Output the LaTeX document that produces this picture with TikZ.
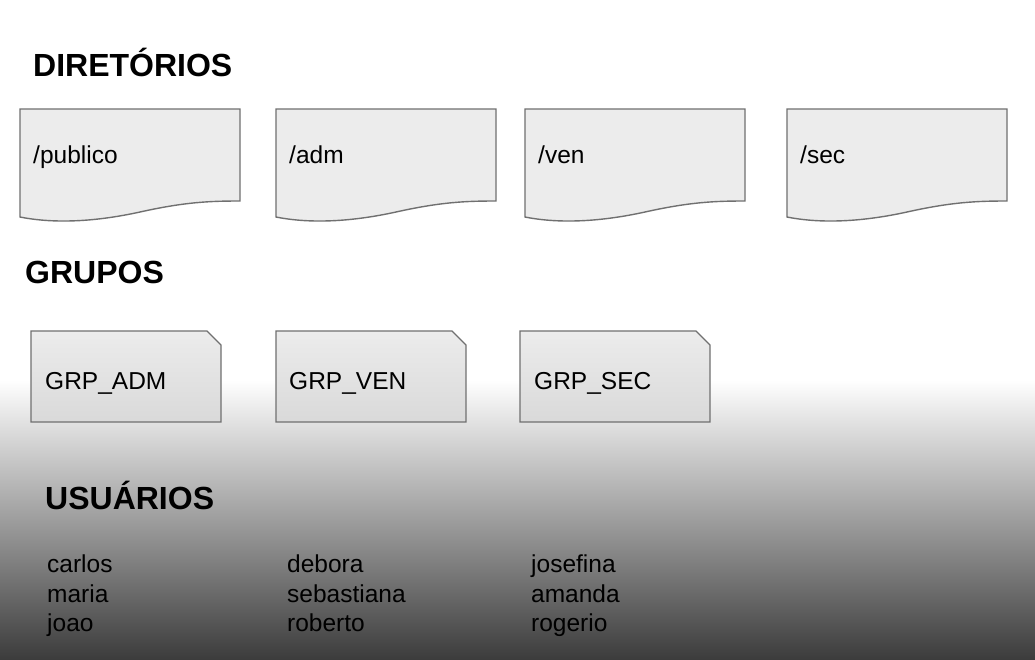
\documentclass[tikz,border=0pt]{standalone}
\usepackage{fontspec}
\setmainfont{Liberation Sans}
\usepackage{tikz}

\definecolor{boxfill}{HTML}{ECECEC}
\definecolor{boxline}{HTML}{707070}
\definecolor{fadeend}{HTML}{3C3C3C}

\begin{document}
\begin{tikzpicture}[x=1pt, y=-1pt,
		title/.style={anchor=base west, inner sep=0pt, font=\fontsize{32}{36}\selectfont\bfseries},
		label/.style={anchor=base west, inner sep=0pt, font=\fontsize{24.5}{29}\selectfont},
		docbox/.style={draw=boxline, fill=boxfill, line width=1.4pt},
		grpbox/.style={draw=boxline, top color=boxfill, bottom color=boxfill!92!black, line width=1.4pt}]
			\useasboundingbox (0,0) rectangle (1035,659);
			\fill[white] (0,0) rectangle (1035,380);
			\shade[top color=white, bottom color=fadeend] (0,380) rectangle (1035,659);
			
			% diretorios
			\node[title] (tdir) at (33,76) {DIRETÓRIOS};
			\draw[docbox] (20,109) -- (240,109) -- (240,201) .. controls (210,201) and (185,202) .. (140,212) .. controls (90,223) and (50,223) .. (20,217) -- cycle;
			\draw[docbox] (276,109) -- (496,109) -- (496,201) .. controls (466,201) and (441,202) .. (396,212) .. controls (346,223) and (306,223) .. (276,217) -- cycle;
			\draw[docbox] (525,109) -- (745,109) -- (745,201) .. controls (715,201) and (690,202) .. (645,212) .. controls (595,223) and (555,223) .. (525,217) -- cycle;
			\draw[docbox] (787,109) -- (1007,109) -- (1007,201) .. controls (977,201) and (952,202) .. (907,212) .. controls (857,223) and (817,223) .. (787,217) -- cycle;
			\node[label] (dpub) at (33,163) {/publico};
			\node[label] (dadm) at (289,163) {/adm};
			\node[label] (dven) at (538,163) {/ven};
			\node[label] (dsec) at (800,163) {/sec};
			
			% grupos
			\node[title] (tgrp) at (25,283.5) {GRUPOS};
			\draw[grpbox] (31,331) -- (207,331) -- (221,345) -- (221,422) -- (31,422) -- cycle;
			\draw[grpbox] (276,331) -- (452,331) -- (466,345) -- (466,422) -- (276,422) -- cycle;
			\draw[grpbox] (520,331) -- (696,331) -- (710,345) -- (710,422) -- (520,422) -- cycle;
			\node[label] (gadm) at (45,389) {GRP\_ADM};
			\node[label] (gven) at (289,389) {GRP\_VEN};
			\node[label] (gsec) at (534,389) {GRP\_SEC};
			
			% usuarios
			\node[title] (tusr) at (45,509.5) {USUÁRIOS};
			\node[label] (ucarlos) at (47,572) {carlos};
			\node[label] (umaria) at (47,602) {maria};
			\node[label] (ujoao) at (47,631) {joao};
			\node[label] (udebora) at (287,572) {debora};
			\node[label] (usebastiana) at (287,602) {sebastiana};
			\node[label] (uroberto) at (287,631) {roberto};
			\node[label] (ujosefina) at (531,572) {josefina};
			\node[label] (uamanda) at (531,602) {amanda};
			\node[label] (urogerio) at (531,631) {rogerio};
			
		\end{tikzpicture}
\end{document}
